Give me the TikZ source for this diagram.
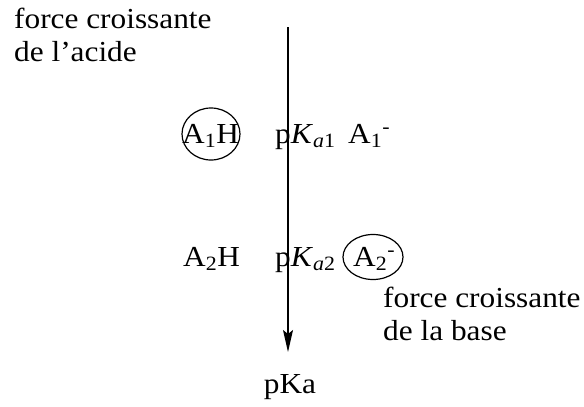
\documentclass[tikz,border=0pt]{standalone}
\usepackage{fontspec}
\setmainfont{Liberation Serif}[FakeStretch=1.08]
\usetikzlibrary{arrows.meta}
\tikzset{
  lbl/.style={inner sep=0pt, anchor=base west, align=left, font=\fontsize{29}{33}\selectfont},
  ring/.style={line width=1.2pt}
}
\begin{document}
\begin{tikzpicture}[x=1pt, y=-1pt]
\useasboundingbox (0,0) rectangle (584,407);
\node[lbl] (acid) at (14,61) {force croissante\\de l'acide};
\node[lbl] (base) at (383,340) {force croissante\\de la base};
\coordinate (top) at (288,27);
\coordinate (bottom) at (288,352);
\draw[line width=1.2pt, -{Stealth[length=22pt, width=10pt, inset=4pt]}] (top) -- (bottom);
\node[lbl, anchor=base] (pka) at (290,393) {pKa};
\node[lbl] (a1h) at (182,143) {A\textsubscript{1}H};
\node[lbl] (pk1) at (275,143) {p\textit{K}\textsubscript{\textit{a}1}};
\node[lbl] (a1m) at (348,143) {A\textsubscript{1}\textsuperscript{-}};
\node[lbl] (a2h) at (183,266) {A\textsubscript{2}H};
\node[lbl] (pk2) at (275,266) {p\textit{K}\textsubscript{\textit{a}2}};
\node[lbl] (a2m) at (353,266) {A\textsubscript{2}\textsuperscript{-}};
\draw[ring] (211,134) ellipse [x radius=29, y radius=26];
\draw[ring] (373,257) ellipse [x radius=30, y radius=22.5];
\end{tikzpicture}
\end{document}
